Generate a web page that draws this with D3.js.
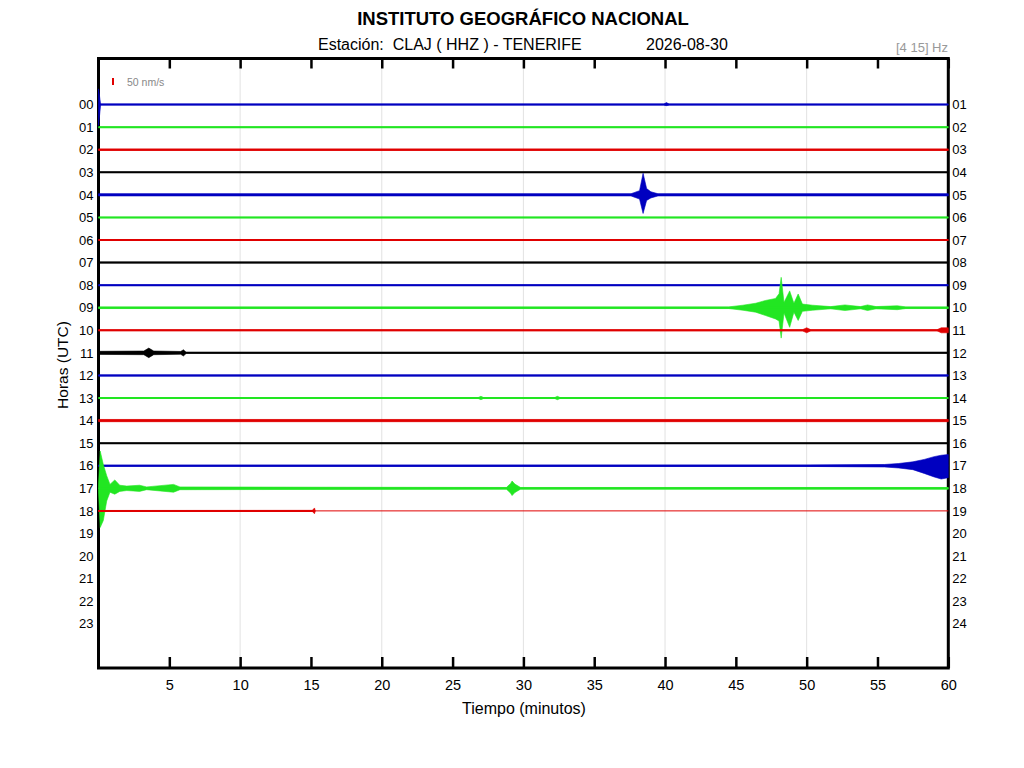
<!DOCTYPE html>
<html>
<head>
<meta charset="UTF-8">
<title>Helicorder CLAJ</title>
<script src="https://cdn.jsdelivr.net/npm/d3@7"></script>
<style>
body { margin: 0; background: #fff; }
text { font-family: "Liberation Sans", Arial, sans-serif; }
</style>
</head>
<body>
<script>
// etiquetas de las horas (eje izquierdo y derecho)
var horasIzq = ["00","01","02","03","04","05","06","07","08","09","10","11","12","13","14","15","16","17","18","19","20","21","22","23"];
var horasDer = ["01","02","03","04","05","06","07","08","09","10","11","12","13","14","15","16","17","18","19","20","21","22","23","24"];
// marcas del eje de tiempo (minutos)
var minutosTicks = [5, 10, 15, 20, 25, 30, 35, 40, 45, 50, 55, 60];
var minutosRejilla = [10, 20, 30, 40, 50];
// colores de las trazas (se repiten cada 4 horas)
var coloresTraza = ["#0000c0", "#22e622", "#e00000", "#000000"];
// ruido de fondo de cada hora registrada (nm/s), horas 00-18
var ruido = [2, 2, 5, 2, 8, 2, 3, 3, 2, 6, 3, 3, 4, 2, 8, 2, 4, 6, 3];
// minuto en que termina el registro de cada hora
var finRegistro = [60, 60, 60, 60, 60, 60, 60, 60, 60, 60, 60, 60, 60, 60, 60, 60, 60, 60, 15.3];
// eventos: [minuto, amplitud arriba, amplitud abajo] en nm/s
var eventos00 = [[0, 112, 150], [0.15, 3, 3], [39.9, 3, 3], [40.1, 14, 8], [40.3, 3, 3]];
var eventos04 = [[37.6, 8, 8], [38.2, 30, 30], [38.45, 154, 133], [38.7, 45, 40], [39.0, 22, 22], [39.5, 8, 8]];
var eventos09 = [[44.5, 6, 6], [45.5, 18, 18], [46.4, 32, 32], [47.1, 52, 56], [47.8, 66, 80], [48.05, 100, 95],
                 [48.2, 217, 217], [48.4, 38, 38], [48.8, 120, 140], [49.1, 32, 32], [49.4, 98, 91], [49.7, 26, 26],
                 [50.4, 18, 18], [51.7, 8, 8], [52.7, 20, 20], [53.8, 8, 8], [54.3, 20, 20], [54.9, 8, 8],
                 [56.4, 14, 14], [57.0, 6, 6]];
var eventos10 = [[49.7, 4, 4], [50.0, 18, 18], [50.3, 4, 4], [59.2, 4, 4], [59.5, 18, 18], [60, 18, 18]];
var eventos11 = [[0, 11, 11], [3.2, 13, 13], [3.55, 34, 34], [3.9, 13, 13], [5.8, 10, 10], [6.0, 22, 22], [6.2, 3, 3]];
var eventos13 = [[26.8, 3, 3], [27.0, 12, 12], [27.2, 3, 3], [32.2, 3, 3], [32.4, 12, 12], [32.6, 3, 3]];
var eventos16 = [[50, 5, 5], [55.5, 9, 9], [56.5, 16, 16], [57.5, 28, 28], [58.3, 45, 55], [59.0, 65, 80], [59.5, 75, 95], [60, 80, 85]];
var eventos17 = [[0, 25, 25], [0.12, 266, 280], [0.34, 170, 230], [0.58, 90, 90], [0.81, 28, 28], [1.15, 60, 42],
                 [1.5, 22, 22], [2.0, 16, 16], [2.9, 22, 22], [3.4, 10, 10], [5.3, 28, 28], [5.75, 10, 10], [15, 8, 8],
                 [28.8, 6, 6], [29.1, 35, 35], [29.2, 52, 52], [29.4, 30, 30], [29.8, 6, 6]];
var eventos18 = [[15.1, 4, 4], [15.25, 21, 21], [15.3, 4, 4]];

var eventosPorHora = {0: eventos00, 4: eventos04, 9: eventos09, 10: eventos10, 11: eventos11,
                      13: eventos13, 16: eventos16, 17: eventos17, 18: eventos18};

var ancho = 1024, alto = 768;
var caja = { left: 98.5, right: 948.3, top: 58.5, bottom: 668 };

var svg = d3.select("body")
	.append("svg")
	.attr("width", ancho)
	.attr("height", alto);

var x = d3.scaleLinear().domain([0, 60]).range([caja.left, caja.right]);
var y = d3.scaleLinear().domain([-2.04, 24.96]).range([caja.top, caja.bottom]);
// escala de amplitud: 50 nm/s = 7 px
var amp = d3.scaleLinear().domain([0, 50]).range([0, 7]);

// rejilla vertical
svg.append("g")
	.selectAll("line")
	.data(minutosRejilla)
	.enter()
	.append("line")
	.attr("x1", x).attr("x2", x)
	.attr("y1", caja.top).attr("y2", caja.bottom)
	.attr("stroke", "#e2e2e2")
	.attr("stroke-width", 1);

// marco
svg.append("rect")
	.attr("x", caja.left).attr("y", caja.top)
	.attr("width", caja.right - caja.left)
	.attr("height", caja.bottom - caja.top)
	.attr("fill", "none")
	.attr("stroke", "#000")
	.attr("stroke-width", 3);

// eje inferior
var ejeX = svg.append("g")
	.attr("transform", "translate(0," + caja.bottom + ")")
	.call(d3.axisBottom(x).tickValues(minutosTicks).tickSize(-11).tickPadding(12));
ejeX.select(".domain").remove();
ejeX.selectAll(".tick line").attr("stroke-width", 2.5);
ejeX.selectAll(".tick text")
	.attr("font-family", "Liberation Sans, Arial, sans-serif")
	.attr("font-size", 14.5)
	.attr("fill", "#000");

// marcas superiores
var ejeArriba = svg.append("g")
	.attr("transform", "translate(0," + caja.top + ")")
	.call(d3.axisTop(x).tickValues(minutosTicks).tickSize(-10).tickFormat(""));
ejeArriba.select(".domain").remove();
ejeArriba.selectAll(".tick line").attr("stroke-width", 2.5);

// trazas
var trazas = svg.append("g");
ruido.forEach(function(n, h) {
	var color = coloresTraza[h % 4];
	var fin = finRegistro[h];
	var ev = (eventosPorHora[h] || []).slice().sort(function(a, b) { return a[0] - b[0]; });
	var pts = [[0, n, n]].concat(ev).concat([[fin, n, n]]);
	var area = d3.area()
		.x(function(d) { return x(d[0]); })
		.y0(function(d) { return y(h) - amp(d[1]); })
		.y1(function(d) { return y(h) + amp(d[2]); });
	if (fin < 60) {
		trazas.append("path")
			.datum([0, 60])
			.attr("d", d3.line().x(function(d) { return x(d); }).y(y(h)))
			.attr("stroke", color)
			.attr("stroke-width", 1)
			.attr("fill", "none");
	}
	trazas.append("path")
		.datum(pts)
		.attr("d", area)
		.attr("fill", color)
		.attr("stroke", color)
		.attr("stroke-width", 0.6);
	trazas.append("path")
		.datum([0, fin])
		.attr("d", d3.line().x(function(d) { return x(d); }).y(y(h)))
		.attr("stroke", color)
		.attr("stroke-width", 2)
		.attr("fill", "none");
});

// etiquetas de horas
var yHoras = d3.range(horasIzq.length);
svg.append("g")
	.call(d3.axisLeft(y).tickValues(yHoras).tickSize(0).tickPadding(5)
		.tickFormat(function(d) { return horasIzq[d]; }))
	.attr("transform", "translate(" + caja.left + ",0)")
	.call(function(g) { g.select(".domain").remove(); })
	.selectAll("text")
	.attr("font-family", "Liberation Sans, Arial, sans-serif")
	.attr("font-size", 13)
	.attr("fill", "#000");
svg.append("g")
	.call(d3.axisRight(y).tickValues(yHoras).tickSize(0).tickPadding(4)
		.tickFormat(function(d) { return horasDer[d]; }))
	.attr("transform", "translate(" + caja.right + ",0)")
	.call(function(g) { g.select(".domain").remove(); })
	.selectAll("text")
	.attr("font-family", "Liberation Sans, Arial, sans-serif")
	.attr("font-size", 13)
	.attr("fill", "#000");

// escala de amplitud
svg.append("line")
	.attr("x1", 113).attr("x2", 113)
	.attr("y1", 81.5 - amp(50) / 2).attr("y2", 81.5 + amp(50) / 2)
	.attr("stroke", "#e00000")
	.attr("stroke-width", 2);
svg.append("text")
	.attr("x", 127).attr("y", 85.5)
	.attr("font-size", 10.5)
	.attr("fill", "#888")
	.text("50 nm/s");

// titulos
svg.append("text")
	.attr("x", 523).attr("y", 25)
	.attr("text-anchor", "middle")
	.attr("font-size", 18.5)
	.attr("font-weight", "bold")
	.text("INSTITUTO GEOGRÁFICO NACIONAL");
svg.append("text")
	.attr("x", 318).attr("y", 50)
	.attr("font-size", 16)
	.style("white-space", "pre")
	.text("Estación:  CLAJ ( HHZ ) - TENERIFE");
svg.append("text")
	.attr("x", 646).attr("y", 50)
	.attr("font-size", 16)
	.text("2026-08-30");
svg.append("text")
	.attr("x", 948).attr("y", 52)
	.attr("text-anchor", "end")
	.attr("font-size", 13)
	.attr("fill", "#999")
	.text("[4 15] Hz");

svg.append("text")
	.attr("x", 524).attr("y", 714)
	.attr("text-anchor", "middle")
	.attr("font-size", 16)
	.text("Tiempo (minutos)");
svg.append("text")
	.attr("transform", "translate(68,365) rotate(-90)")
	.attr("text-anchor", "middle")
	.attr("font-size", 15.5)
	.text("Horas (UTC)");
</script>
</body>
</html>
